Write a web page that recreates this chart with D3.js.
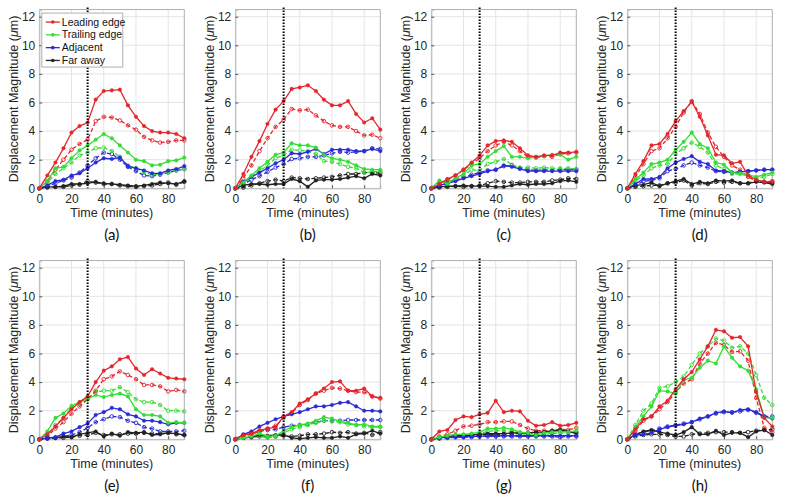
<!DOCTYPE html>
<html><head><meta charset="utf-8">
<script src="https://cdn.jsdelivr.net/npm/d3@7"></script>
<style>body{margin:0;background:#fff}svg{display:block}</style>
</head><body>
<script>
const times = [0,5,10,15,20,25,30,35,40,45,50,55,60,65,70,75,80,85,90];
const panelLabels = ["(a)","(b)","(c)","(d)","(e)","(f)","(g)","(h)"];
const seriesNames = ["Leading edge","Trailing edge","Adjacent","Far away"];
const seriesColors = ["#e3262c","#33dd33","#2a2ad6","#222222"];
const xTicks = [0,20,40,60,80];
const yTicks = [0,2,4,6,8,10,12];
const stimulusTime = 30;

// each array: one row per panel (a..h), values at `times`
const leadingEdge = [
 [0,0.9,1.8,2.8,3.9,4.35,4.6,6.2,6.8,6.85,6.9,5.8,5.0,4.35,4.0,3.9,3.9,3.8,3.5],
 [0,1.0,2.2,3.3,4.5,5.5,6.1,6.95,7.05,7.2,6.8,6.2,5.8,5.8,6.1,5.2,4.6,4.9,4.1],
 [0,0.3,0.65,0.9,1.3,1.8,2.3,3.0,3.3,3.35,3.25,2.8,2.3,2.2,2.3,2.3,2.5,2.5,2.55],
 [0,1.0,1.9,3.0,3.1,3.8,4.7,5.4,6.05,5.0,3.7,2.35,2.3,1.75,1.85,0.9,0.6,0.45,0.45],
 [0,0.35,0.9,1.5,2.1,2.6,3.0,4.0,4.8,5.1,5.6,5.75,4.95,4.5,4.9,4.6,4.3,4.25,4.2],
 [0,0.3,0.4,0.65,0.75,0.85,1.6,1.9,2.5,2.8,3.2,3.55,4.0,4.05,3.4,3.4,3.55,3.0,2.9],
 [0,0.55,0.65,1.35,1.6,1.55,1.75,1.85,2.7,1.9,2.0,1.95,1.3,0.95,1.0,1.2,0.95,1.0,1.15],
 [0,0.7,1.4,1.6,2.3,2.7,3.5,4.2,4.7,5.6,6.5,7.65,7.55,7.1,7.15,6.5,3.3,1.5,0.9]
];
const leadingEdgeDashed = [
 [0,0.5,1.3,2.0,2.7,3.1,3.4,4.7,5.0,4.95,4.75,4.4,4.1,3.6,3.35,3.2,3.25,3.35,3.35],
 [0,0.7,1.6,2.6,3.5,4.3,4.8,5.55,5.45,5.5,5.1,4.7,4.4,4.3,4.3,4.0,3.7,3.75,3.5],
 [0,0.3,0.6,0.9,1.3,1.7,2.1,2.6,3.0,3.25,3.0,2.6,2.2,2.15,2.25,2.2,2.4,2.45,2.5],
 [0,0.8,1.7,2.6,2.8,3.5,4.3,5.3,6.1,5.2,3.9,2.9,2.2,1.6,1.3,0.8,0.5,0.45,0.5],
 [0,0.2,0.75,1.2,1.8,2.3,2.8,3.4,4.2,4.4,4.75,4.5,4.2,3.8,3.8,3.7,3.35,3.45,3.35],
 [0,0.25,0.35,0.55,0.75,0.95,1.5,1.85,2.4,2.75,3.2,3.4,3.6,3.55,3.4,3.3,3.3,3.0,2.85],
 [0,0.2,0.35,0.6,0.9,0.95,1.05,1.2,1.2,1.25,1.25,1.0,0.75,0.6,0.6,0.6,0.7,0.65,0.8],
 [0,0.6,1.3,1.6,2.1,2.6,3.3,3.9,4.2,5.3,6.0,6.75,6.6,6.1,6.15,5.5,2.9,0.8,0.5]
];
const trailingEdge = [
 [0,0.5,1.4,1.5,2.1,2.65,3.0,3.4,3.8,3.5,3.0,2.5,2.0,1.9,1.6,1.65,1.9,1.95,2.15],
 [0,0.4,0.9,1.4,1.85,2.35,2.5,3.15,3.0,3.0,2.85,2.35,2.1,2.0,1.85,1.6,1.35,1.3,1.3],
 [0,0.55,0.3,0.7,1.0,1.6,1.7,2.2,2.6,2.95,2.2,2.2,2.1,2.2,2.25,2.35,2.35,2.0,2.2],
 [0,0.6,1.1,1.7,1.8,2.0,2.7,3.25,3.9,3.1,2.8,1.8,1.65,1.1,1.05,0.95,0.8,0.95,1.1],
 [0,0.55,1.5,1.8,2.35,2.6,2.8,3.1,2.95,3.1,3.2,3.0,2.1,1.7,1.7,1.6,1.15,1.2,1.15],
 [0,0.1,0.2,0.4,0.2,0.25,0.6,0.85,1.0,1.1,1.3,1.55,1.45,1.25,1.15,1.0,1.05,0.9,0.9],
 [0,0.15,0.25,0.35,0.35,0.4,0.5,0.75,0.75,0.8,0.7,0.5,0.45,0.3,0.45,0.5,0.55,0.5,0.6],
 [0,0.85,1.6,2.3,3.4,3.35,3.2,4.15,4.3,5.0,5.5,5.3,6.5,5.7,5.1,4.8,3.5,1.5,1.5]
];
const trailingEdgeDashed = [
 [0,0.4,1.0,1.4,1.8,2.3,2.5,2.8,2.85,2.6,2.2,1.6,1.4,1.1,0.95,1.0,1.1,1.25,1.35],
 [0,0.35,0.8,1.2,1.6,2.1,2.3,2.7,2.65,2.6,2.4,1.9,1.85,1.7,1.5,1.4,1.1,1.15,1.2],
 [0,0.3,0.45,0.65,0.9,1.3,1.25,1.7,1.85,2.05,1.65,1.45,1.45,1.4,1.45,1.4,1.4,1.4,1.35],
 [0,0.5,0.9,1.4,1.6,1.7,2.4,2.8,3.2,2.9,2.5,1.6,1.35,1.0,1.0,0.85,0.7,0.8,1.0],
 [0,0.3,1.0,1.5,2.2,2.5,2.85,3.3,3.4,3.4,3.65,3.3,2.8,2.6,2.6,2.4,2.0,2.0,1.95],
 [0,0.1,0.15,0.25,0.15,0.2,0.45,0.7,0.85,1.0,1.15,1.3,1.25,1.2,1.05,1.0,0.9,0.85,0.85],
 [0,0.1,0.2,0.25,0.3,0.35,0.4,0.55,0.6,0.6,0.55,0.45,0.35,0.2,0.35,0.4,0.45,0.45,0.5],
 [0,1.0,2.0,2.5,3.6,3.7,4.0,4.4,5.2,6.0,6.5,7.05,6.9,6.4,6.5,6.0,4.5,2.9,2.4]
];
const adjacent = [
 [0,0.2,0.5,0.6,0.9,1.05,1.4,1.8,2.1,2.05,2.15,1.55,1.4,1.25,1.05,1.05,1.25,1.35,1.55],
 [0,0.45,0.8,1.1,1.4,1.75,2.0,2.45,2.4,2.55,2.75,2.4,2.7,2.7,2.7,2.6,2.6,2.75,2.6],
 [0,0.2,0.35,0.5,0.7,0.85,1.0,1.2,1.3,1.6,1.5,1.35,1.2,1.2,1.2,1.2,1.2,1.2,1.2],
 [0,0.3,0.65,0.65,0.8,1.4,1.8,2.05,2.25,1.85,1.7,1.25,1.2,1.1,1.15,1.2,1.25,1.3,1.3],
 [0,0.1,0.15,0.4,0.55,0.85,1.1,1.7,1.9,2.2,2.1,1.75,1.6,1.3,1.3,1.2,1.05,1.15,1.15],
 [0,0.35,0.55,0.9,1.15,1.4,1.6,1.75,1.9,2.1,2.3,2.3,2.4,2.55,2.6,2.3,2.0,2.0,1.95],
 [0,0.1,0.15,0.15,0.15,0.2,0.2,0.25,0.25,0.25,0.25,0.25,0.25,0.25,0.25,0.25,0.25,0.25,0.25],
 [0,0.3,0.35,0.45,0.7,0.85,0.95,1.05,1.2,1.45,1.6,1.85,1.95,1.85,2.05,2.1,1.9,1.6,1.45]
];
const adjacentDashed = [
 [0,0.15,0.35,0.55,0.75,1.1,1.6,2.1,2.5,2.4,2.0,1.5,1.2,0.9,0.85,0.95,1.1,1.25,1.35],
 [0,0.3,0.6,0.85,1.15,1.45,1.7,2.05,2.1,2.2,2.2,2.3,2.45,2.55,2.5,2.55,2.6,2.8,2.75],
 [0,0.2,0.35,0.55,0.75,0.95,1.1,1.25,1.3,1.55,1.6,1.4,1.3,1.25,1.3,1.25,1.3,1.3,1.3],
 [0,0.2,0.5,0.55,0.7,1.2,1.35,1.6,1.8,1.6,1.45,1.2,1.15,1.1,1.15,1.2,1.25,1.3,1.3],
 [0,0.05,0.1,0.2,0.3,0.5,0.8,1.2,1.4,1.6,1.55,1.3,1.15,0.85,0.75,0.55,0.55,0.55,0.6],
 [0,0.3,0.4,0.55,0.65,0.7,0.85,0.95,1.0,1.05,1.2,1.3,1.3,1.3,1.35,1.35,1.35,1.35,1.35],
 [0,0.1,0.1,0.15,0.15,0.15,0.2,0.2,0.2,0.2,0.2,0.2,0.2,0.2,0.2,0.2,0.15,0.2,0.2],
 [0,0.4,0.5,0.6,0.75,0.9,1.0,1.1,1.2,1.4,1.6,1.8,1.9,1.9,1.95,2.05,1.85,1.6,1.6]
];
const farAway = [
 [0,0.1,0.1,0.15,0.3,0.3,0.35,0.45,0.35,0.3,0.25,0.2,0.15,0.2,0.3,0.4,0.35,0.3,0.5],
 [0,0.2,0.3,0.3,0.25,0.3,0.3,0.65,0.5,0.1,0.55,0.6,0.6,0.65,0.75,0.85,0.7,1.0,0.9],
 [0,0.1,0.15,0.15,0.2,0.15,0.15,0.15,0.1,0.1,0.2,0.3,0.25,0.3,0.3,0.35,0.5,0.55,0.45],
 [0,0.2,0.25,0.4,0.15,0.35,0.5,0.65,0.3,0.45,0.35,0.55,0.5,0.55,0.35,0.35,0.45,0.4,0.3],
 [0,0.1,0.1,0.2,0.15,0.35,0.45,0.55,0.2,0.4,0.25,0.5,0.45,0.5,0.3,0.35,0.45,0.4,0.3],
 [0,0.1,0.15,0.3,0.25,0.3,0.3,0.1,0.05,0.1,0.15,0.1,0.1,0.2,0.1,0.35,0.4,0.6,0.4],
 [0,0.1,0.2,0.25,0.25,0.3,0.35,0.4,0.4,0.4,0.45,0.45,0.45,0.5,0.5,0.6,0.65,0.55,0.4],
 [0,0.3,0.55,0.65,0.5,0.4,0.3,0.5,0.85,0.35,0.35,0.6,0.3,0.45,0.45,0.15,0.55,0.65,0.3]
];
const farAwayDashed = [
 [0,0.05,0.1,0.1,0.2,0.25,0.5,0.4,0.3,0.3,0.2,0.15,0.1,0.15,0.2,0.3,0.4,0.25,0.45],
 [0,0.05,0.2,0.35,0.5,0.6,0.5,0.75,0.7,0.65,0.7,0.75,0.8,0.9,1.0,1.0,1.1,1.1,1.05],
 [0,0.05,0.1,0.15,0.1,0.15,0.2,0.35,0.5,0.45,0.4,0.4,0.45,0.45,0.45,0.55,0.6,0.7,0.65],
 [0,0.1,0.15,0.2,0.2,0.35,0.4,0.55,0.2,0.35,0.3,0.45,0.4,0.45,0.35,0.35,0.55,0.45,0.4],
 [0,0.05,0.1,0.1,0.15,0.25,0.3,0.45,0.3,0.35,0.35,0.4,0.4,0.45,0.4,0.4,0.45,0.35,0.3],
 [0,0.1,0.15,0.2,0.15,0.2,0.25,0.2,0.25,0.35,0.35,0.4,0.5,0.45,0.5,0.4,0.45,0.3,0.5],
 [0,0.05,0.15,0.2,0.2,0.25,0.3,0.35,0.35,0.35,0.4,0.4,0.4,0.45,0.5,0.55,0.6,0.5,0.5],
 [0,0.2,0.3,0.35,0.35,0.3,0.2,0.2,0.35,0.4,0.45,0.5,0.5,0.5,0.45,0.5,0.6,0.65,0.7]
];

const W = 787, H = 503;
const svg = d3.select("body").append("svg").attr("width", W).attr("height", H)
  .style("font-family", "'Liberation Sans', Arial, sans-serif");

const solidSets = [leadingEdge, trailingEdge, adjacent, farAway];
const dashedSets = [leadingEdgeDashed, trailingEdgeDashed, adjacentDashed, farAwayDashed];

const plotW = 145, unitPx = 14.3, yMax = 12.5;
panelLabels.forEach((lab, p) => {
  const col = p % 4, row = Math.floor(p / 4);
  const left = 39.3 + col * 196;
  const bottom = row === 0 ? 188.3 : 439.3;
  const x = d3.scaleLinear().domain([0, 90]).range([left, left + plotW]);
  const y = d3.scaleLinear().domain([0, yMax]).range([bottom, bottom - yMax * unitPx]);
  const g = svg.append("g");
  const top = y(yMax);

  // grid
  g.append("g").selectAll("line").data(xTicks).join("line")
    .attr("x1", d => x(d)).attr("x2", d => x(d)).attr("y1", top).attr("y2", bottom)
    .attr("stroke", "#e4e4e4").attr("stroke-width", 1);
  g.append("g").selectAll("line").data(yTicks).join("line")
    .attr("x1", left).attr("x2", left + plotW).attr("y1", d => y(d)).attr("y2", d => y(d))
    .attr("stroke", "#e4e4e4").attr("stroke-width", 1);

  // axes
  const xa = g.append("g").attr("transform", `translate(0,${bottom})`)
    .call(d3.axisBottom(x).tickValues(xTicks).tickSize(-3).tickPadding(6));
  const ya = g.append("g").attr("transform", `translate(${left},0)`)
    .call(d3.axisLeft(y).tickValues(yTicks).tickSize(-3).tickPadding(4));
  [xa, ya].forEach(a => {
    a.select(".domain").attr("stroke", "#b0b0b0");
    a.selectAll(".tick line").attr("stroke", "#555");
    a.selectAll(".tick text").attr("fill", "#262626").style("font-size", "12px")
      .style("font-family", "'Liberation Sans', Arial, sans-serif");
  });
  // box top/right
  g.append("line").attr("x1", left).attr("x2", left + plotW).attr("y1", top).attr("y2", top).attr("stroke", "#b0b0b0");
  g.append("line").attr("x1", left + plotW).attr("x2", left + plotW).attr("y1", top).attr("y2", bottom).attr("stroke", "#b0b0b0");

  // lines
  const line = d3.line().x((d, i) => x(times[i])).y(d => y(d));
  const drawSeries = (vals, color, dashed) => {
    g.append("path").datum(vals).attr("d", line).attr("fill", "none")
      .attr("stroke", color).attr("stroke-width", 1.3)
      .attr("stroke-dasharray", dashed ? "4,2.5" : null);
    g.append("g").selectAll("circle").data(vals).join("circle")
      .attr("cx", (d, i) => x(times[i])).attr("cy", d => y(d))
      .attr("r", dashed ? 1.8 : 1.8)
      .attr("fill", dashed ? "none" : color)
      .attr("stroke", color).attr("stroke-width", dashed ? 0.9 : 0.4);
  };
  [3, 2, 1, 0].forEach(s => drawSeries(dashedSets[s][p], seriesColors[s], true));
  [3, 2, 1, 0].forEach(s => drawSeries(solidSets[s][p], seriesColors[s], false));

  // stimulus marker
  g.append("line").attr("x1", x(stimulusTime)).attr("x2", x(stimulusTime))
    .attr("y1", top - 2).attr("y2", bottom)
    .attr("stroke", "#000").attr("stroke-width", 2).attr("stroke-dasharray", "1.5,1.5");

  // titles
  g.append("text").attr("x", left + plotW / 2).attr("y", bottom + 29)
    .attr("text-anchor", "middle").style("font-size", "12.5px").attr("fill", "#262626")
    .text("Time (minutes)");
  const yl = g.append("text")
    .attr("transform", `translate(${left - 21},${(top + bottom) / 2}) rotate(-90)`)
    .attr("text-anchor", "middle").style("font-size", "12.5px").attr("fill", "#262626");
  yl.append("tspan").text("Displacement Magnitude (");
  yl.append("tspan").style("font-style", "italic").text("μ");
  yl.append("tspan").text("m)");
  g.append("text").attr("x", left + plotW / 2).attr("y", bottom + 52)
    .attr("text-anchor", "middle").style("font-size", "15px")
    .style("font-family", "Lato, 'Open Sans', sans-serif").attr("fill", "#111")
    .text(lab);

  // legend in first panel
  if (p === 0) {
    const lg = g.append("g").attr("transform", `translate(${left + 2.5},${top + 3.5})`);
    lg.append("rect").attr("width", 81).attr("height", 54).attr("fill", "#fff")
      .attr("stroke", "#b0b0b0").attr("stroke-width", 1);
    seriesNames.forEach((nm, i) => {
      const yy = 9 + i * 12.8;
      lg.append("line").attr("x1", 4).attr("x2", 18).attr("y1", yy).attr("y2", yy)
        .attr("stroke", seriesColors[i]).attr("stroke-width", 1.3);
      lg.append("circle").attr("cx", 11).attr("cy", yy).attr("r", 1.8).attr("fill", seriesColors[i]);
      lg.append("text").attr("x", 20).attr("y", yy + 3.6).style("font-size", "10.5px")
        .attr("fill", "#111").text(nm);
    });
  }
});
</script>
</body></html>
